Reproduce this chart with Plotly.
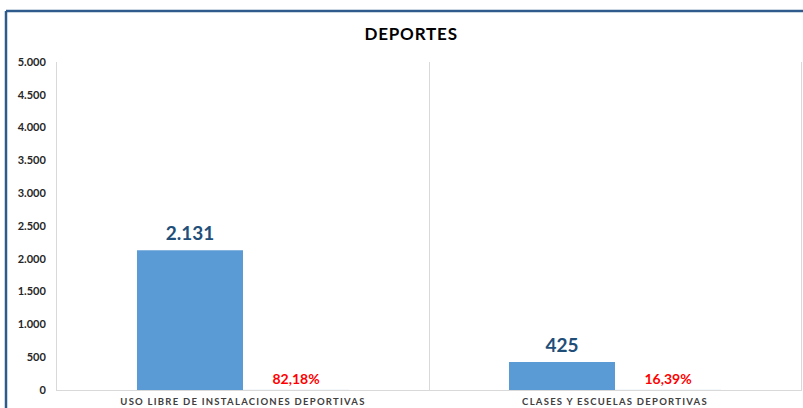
import plotly.graph_objects as go

categories = ["USO LIBRE DE INSTALACIONES DEPORTIVAS", "CLASES Y ESCUELAS DEPORTIVAS"]
values = [2131, 425]
percent_labels = ["82,18%", "16,39%"]
zeros = [0, 0]
y_ticks = [0, 500, 1000, 1500, 2000, 2500, 3000, 3500, 4000, 4500, 5000]


def fmt_thousands(v):
    return f"{v:,}".replace(",", ".")


fig = go.Figure()
fig.add_trace(go.Bar(
    x=categories, y=values,
    marker=dict(color="#5b9bd5", line=dict(width=0)),
    text=[fmt_thousands(v) for v in values],
    textposition="outside",
    textfont=dict(family="Lato", size=19, color="#1f4e79", weight="bold"),
    cliponaxis=False,
    hoverinfo="skip",
))
fig.add_trace(go.Bar(
    x=categories, y=zeros,
    marker=dict(color="rgba(0,0,0,0)"),
    text=percent_labels,
    textposition="outside",
    textfont=dict(family="Lato", size=14, color="#ff0000", weight="bold"),
    cliponaxis=False,
    hoverinfo="skip",
))

fig.update_layout(
    width=803, height=408,
    margin=dict(l=57, r=2, t=62, b=18),
    paper_bgcolor="white", plot_bgcolor="white",
    barmode="group", bargap=0.43, bargroupgap=0,
    showlegend=False,
    separators=",.",
    title=dict(text="<b>DEPORTES</b>", x=0.512, xanchor="center",
               y=1 - 34 / 408, yref="container", yanchor="middle",
               font=dict(family="Lato", size=17, color="#000000")),
    xaxis=dict(
        type="category", tickson="boundaries", showgrid=True,
        gridcolor="#d9d9d9", gridwidth=1,
        showline=True, linecolor="#d9d9d9", linewidth=1,
        ticks="", ticklabelstandoff=3,
        tickfont=dict(family="Lato", size=9.5, color="#404040", weight="bold"),
        fixedrange=True,
    ),
    yaxis=dict(
        range=[0, 5000], tickvals=y_ticks, tickformat=",d",
        showgrid=False, zeroline=False,
        showline=True, mirror=True, linecolor="#d9d9d9", linewidth=1,
        ticks="", ticklabelstandoff=8,
        tickfont=dict(family="Lato", size=11, color="#262626", weight="bold"),
        fixedrange=True,
    ),
    shapes=[
        dict(type="line", xref="paper", yref="paper",
             x0=(6 - 57) / 744, x1=1.1, y0=(390 - 11) / 328, y1=(390 - 11) / 328,
             line=dict(color="#2f5b8c", width=2.5)),
        dict(type="line", xref="paper", yref="paper",
             x0=(6 - 57) / 744, x1=(6 - 57) / 744, y0=(390 - 11) / 328, y1=-0.2,
             line=dict(color="#2f5b8c", width=2.5)),
    ],
)

post = """
function applySpacing(){
  document.querySelectorAll('.xtick text').forEach(function(t){
    t.style.letterSpacing='1.25px';
  });
  var tt=document.querySelector('.gtitle');
  if(tt){tt.style.letterSpacing='0.8px';}
  document.querySelectorAll('.trace.bars').forEach(function(tr, i){
    if(i===0){
      tr.querySelectorAll('.bartext').forEach(function(b){
        b.setAttribute('transform', (b.getAttribute('transform')||'') + ' translate(0,-3)');
      });
    }
  });
}
applySpacing();
"""

fig.write_html("out.html", post_script=post)
